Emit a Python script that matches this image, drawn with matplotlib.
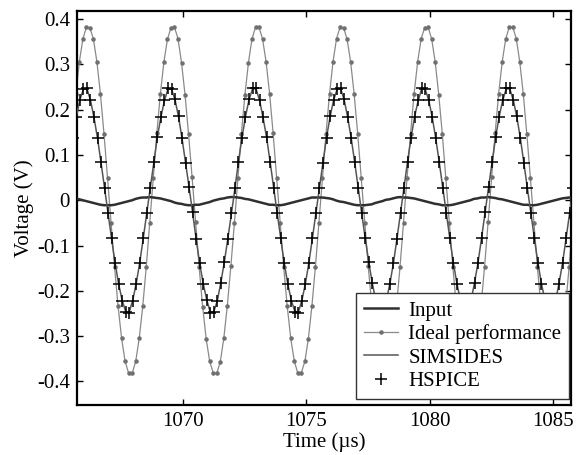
import numpy as np
import matplotlib
matplotlib.use("Agg")
import matplotlib.pyplot as plt
from matplotlib.ticker import FixedLocator, FuncFormatter

# sample times (us) of the simulated waveforms
t_ideal = np.linspace(1065.507, 1085.942, 144)
t_hspice = np.linspace(1065.387, 1085.822, 144)

ideal = [
    0.147, 0.234, 0.305, 0.356, 0.382, 0.381, 0.356, 0.305, 0.234, 0.147, 0.050, -0.050,
    -0.147, -0.234, -0.305, -0.356, -0.382, -0.382, -0.356, -0.305, -0.234, -0.147, -0.050, 0.050,
    0.148, 0.235, 0.305, 0.355, 0.381, 0.382, 0.357, 0.304, 0.233, 0.146, 0.051, -0.049,
    -0.147, -0.235, -0.306, -0.356, -0.381, -0.382, -0.357, -0.305, -0.233, -0.146, -0.051, 0.049,
    0.147, 0.233, 0.304, 0.356, 0.382, 0.382, 0.356, 0.306, 0.235, 0.148, 0.050, -0.050,
    -0.148, -0.234, -0.305, -0.355, -0.382, -0.381, -0.356, -0.306, -0.234, -0.147, -0.050, 0.050,
    0.146, 0.234, 0.306, 0.357, 0.382, 0.381, 0.355, 0.305, 0.234, 0.147, 0.049, -0.051,
    -0.146, -0.233, -0.305, -0.357, -0.382, -0.382, -0.355, -0.304, -0.235, -0.148, -0.050, 0.050,
    0.147, 0.234, 0.305, 0.356, 0.381, 0.382, 0.356, 0.305, 0.233, 0.147, 0.050, -0.050,
    -0.147, -0.234, -0.304, -0.356, -0.382, -0.382, -0.356, -0.305, -0.234, -0.147, -0.049, 0.051,
    0.148, 0.235, 0.305, 0.356, 0.382, 0.382, 0.357, 0.305, 0.234, 0.146, 0.050, -0.050,
    -0.147, -0.234, -0.305, -0.356, -0.381, -0.382, -0.356, -0.305, -0.234, -0.147, -0.050, 0.050,
]

hspice = [
    0.084, 0.138, 0.184, 0.222, 0.246, 0.247, 0.222, 0.184, 0.138, 0.084, 0.028, -0.028,
    -0.084, -0.138, -0.184, -0.222, -0.247, -0.248, -0.222, -0.184, -0.138, -0.084, -0.028, 0.028,
    0.085, 0.139, 0.183, 0.221, 0.247, 0.246, 0.223, 0.185, 0.137, 0.083, 0.029, -0.027,
    -0.085, -0.139, -0.185, -0.221, -0.248, -0.247, -0.223, -0.183, -0.137, -0.085, -0.029, 0.027,
    0.084, 0.137, 0.184, 0.223, 0.247, 0.247, 0.221, 0.183, 0.139, 0.085, 0.028, -0.028,
    -0.083, -0.138, -0.184, -0.222, -0.246, -0.248, -0.222, -0.185, -0.138, -0.084, -0.028, 0.028,
    0.083, 0.138, 0.185, 0.222, 0.246, 0.247, 0.223, 0.184, 0.138, 0.084, 0.027, -0.029,
    -0.084, -0.137, -0.183, -0.223, -0.247, -0.247, -0.221, -0.184, -0.139, -0.085, -0.028, 0.028,
    0.085, 0.138, 0.184, 0.221, 0.247, 0.246, 0.222, 0.184, 0.137, 0.084, 0.028, -0.028,
    -0.084, -0.138, -0.185, -0.222, -0.248, -0.247, -0.222, -0.183, -0.138, -0.084, -0.027, 0.029,
    0.084, 0.139, 0.184, 0.222, 0.247, 0.247, 0.222, 0.185, 0.138, 0.083, 0.028, -0.028,
    -0.084, -0.138, -0.184, -0.222, -0.247, -0.247, -0.222, -0.184, -0.138, -0.084, -0.028, 0.028,
]

simsides = [
    0.085, 0.139, 0.185, 0.222, 0.245, 0.246, 0.221, 0.183, 0.137, 0.083, 0.027, -0.029,
    -0.085, -0.139, -0.185, -0.221, -0.246, -0.247, -0.221, -0.183, -0.137, -0.083, -0.027, 0.029,
    0.086, 0.140, 0.184, 0.220, 0.246, 0.245, 0.222, 0.184, 0.136, 0.082, 0.028, -0.028,
    -0.086, -0.140, -0.184, -0.220, -0.247, -0.246, -0.222, -0.182, -0.136, -0.084, -0.030, 0.026,
    0.085, 0.138, 0.185, 0.222, 0.246, 0.246, 0.220, 0.182, 0.138, 0.084, 0.027, -0.029,
    -0.084, -0.139, -0.185, -0.221, -0.245, -0.247, -0.221, -0.184, -0.137, -0.083, -0.027, 0.029,
    0.084, 0.139, 0.184, 0.221, 0.245, 0.246, 0.222, 0.183, 0.137, 0.083, 0.026, -0.030,
    -0.085, -0.138, -0.184, -0.222, -0.246, -0.246, -0.220, -0.183, -0.138, -0.084, -0.027, 0.029,
    0.086, 0.139, 0.185, 0.220, 0.246, 0.245, 0.221, 0.183, 0.136, 0.083, 0.027, -0.029,
    -0.085, -0.139, -0.184, -0.221, -0.247, -0.246, -0.221, -0.182, -0.137, -0.083, -0.026, 0.030,
    0.085, 0.140, 0.185, 0.221, 0.246, 0.246, 0.221, 0.184, 0.137, 0.082, 0.027, -0.029,
    -0.085, -0.139, -0.185, -0.221, -0.246, -0.246, -0.221, -0.183, -0.137, -0.083, -0.027, 0.029,
]

inp = [
    0.005, 0.004, 0.002, 0.000, -0.002, -0.004, -0.006, -0.008, -0.010, -0.011, -0.011, -0.011,
    -0.010, -0.008, -0.006, -0.004, -0.002, 0.000, 0.003, 0.005, 0.006, 0.006, 0.007, 0.006,
    0.005, 0.004, 0.002, 0.000, -0.002, -0.005, -0.007, -0.008, -0.010, -0.011, -0.011, -0.010,
    -0.010, -0.008, -0.006, -0.004, -0.001, 0.001, 0.003, 0.004, 0.006, 0.007, 0.007, 0.006,
    0.005, 0.003, 0.002, 0.000, -0.002, -0.004, -0.006, -0.008, -0.010, -0.010, -0.011, -0.011,
    -0.010, -0.008, -0.006, -0.004, -0.002, 0.000, 0.002, 0.004, 0.006, 0.006, 0.006, 0.006,
    0.005, 0.004, 0.002, -0.001, -0.003, -0.004, -0.006, -0.008, -0.010, -0.011, -0.011, -0.011,
    -0.010, -0.009, -0.006, -0.004, -0.002, 0.001, 0.002, 0.004, 0.006, 0.007, 0.006, 0.006,
    0.005, 0.004, 0.002, 0.000, -0.002, -0.004, -0.006, -0.008, -0.009, -0.011, -0.011, -0.011,
    -0.010, -0.008, -0.006, -0.004, -0.002, 0.000, 0.003, 0.004, 0.006, 0.006, 0.007, 0.006,
    0.005, 0.003, 0.002, 0.000, -0.002, -0.004, -0.006, -0.008, -0.010, -0.010, -0.011, -0.011,
    -0.010, -0.008, -0.006, -0.004, -0.002, 0.000, 0.002, 0.004, 0.005, 0.006, 0.006, 0.006,
]

x_ticks = [1070, 1075, 1080, 1085]
y_ticks = [-0.4, -0.3, -0.2, -0.1, 0, 0.1, 0.2, 0.3, 0.4]

plt.rcParams['font.family'] = ['Liberation Serif', 'DejaVu Serif']
plt.rcParams['font.size'] = 14
plt.rcParams['axes.unicode_minus'] = False

fig = plt.figure(figsize=(5.77, 4.55), dpi=100)
ax = fig.add_axes([0.1335, 0.110, 0.856, 0.866])

ax.plot(t_ideal, inp, color='#303030', lw=1.8, label='Input', zorder=3)
ax.plot(t_ideal, ideal, color='#8a8a8a', lw=0.9, marker='.', ms=4.5,
        mfc='#707070', mec='#707070', label='Ideal performance', zorder=2)
ax.plot(t_hspice, simsides, color='#555555', lw=1.1, label='SIMSIDES', zorder=3)
ax.plot(t_hspice, hspice, ls='none', marker='+', ms=8, mew=1.1,
        color='black', label='HSPICE', zorder=4)

ax.set_xlim(1065.70, 1085.73)
ax.set_ylim(-0.452, 0.418)
ax.xaxis.set_major_locator(FixedLocator(x_ticks))
ax.yaxis.set_major_locator(FixedLocator(y_ticks))
ax.yaxis.set_major_formatter(FuncFormatter(lambda v, p: f"{v:g}"))
ax.tick_params(direction='in', length=4, width=1, top=True, right=True,
               labelsize=15, pad=5)
for s in ax.spines.values():
    s.set_linewidth(1.6)

ax.set_xlabel('Time (µs)', fontsize=15, labelpad=1)
ax.set_ylabel('Voltage (V)', fontsize=15, labelpad=2)

leg = ax.legend(loc='lower right', bbox_to_anchor=(0.997, 0.014), borderaxespad=0,
                fancybox=False, framealpha=1, edgecolor='#333333', fontsize=15,
                labelspacing=0.18, handlelength=1.6, borderpad=0.4, handletextpad=0.5)
leg.get_frame().set_linewidth(1.0)

fig.savefig('out.png', dpi=100)
